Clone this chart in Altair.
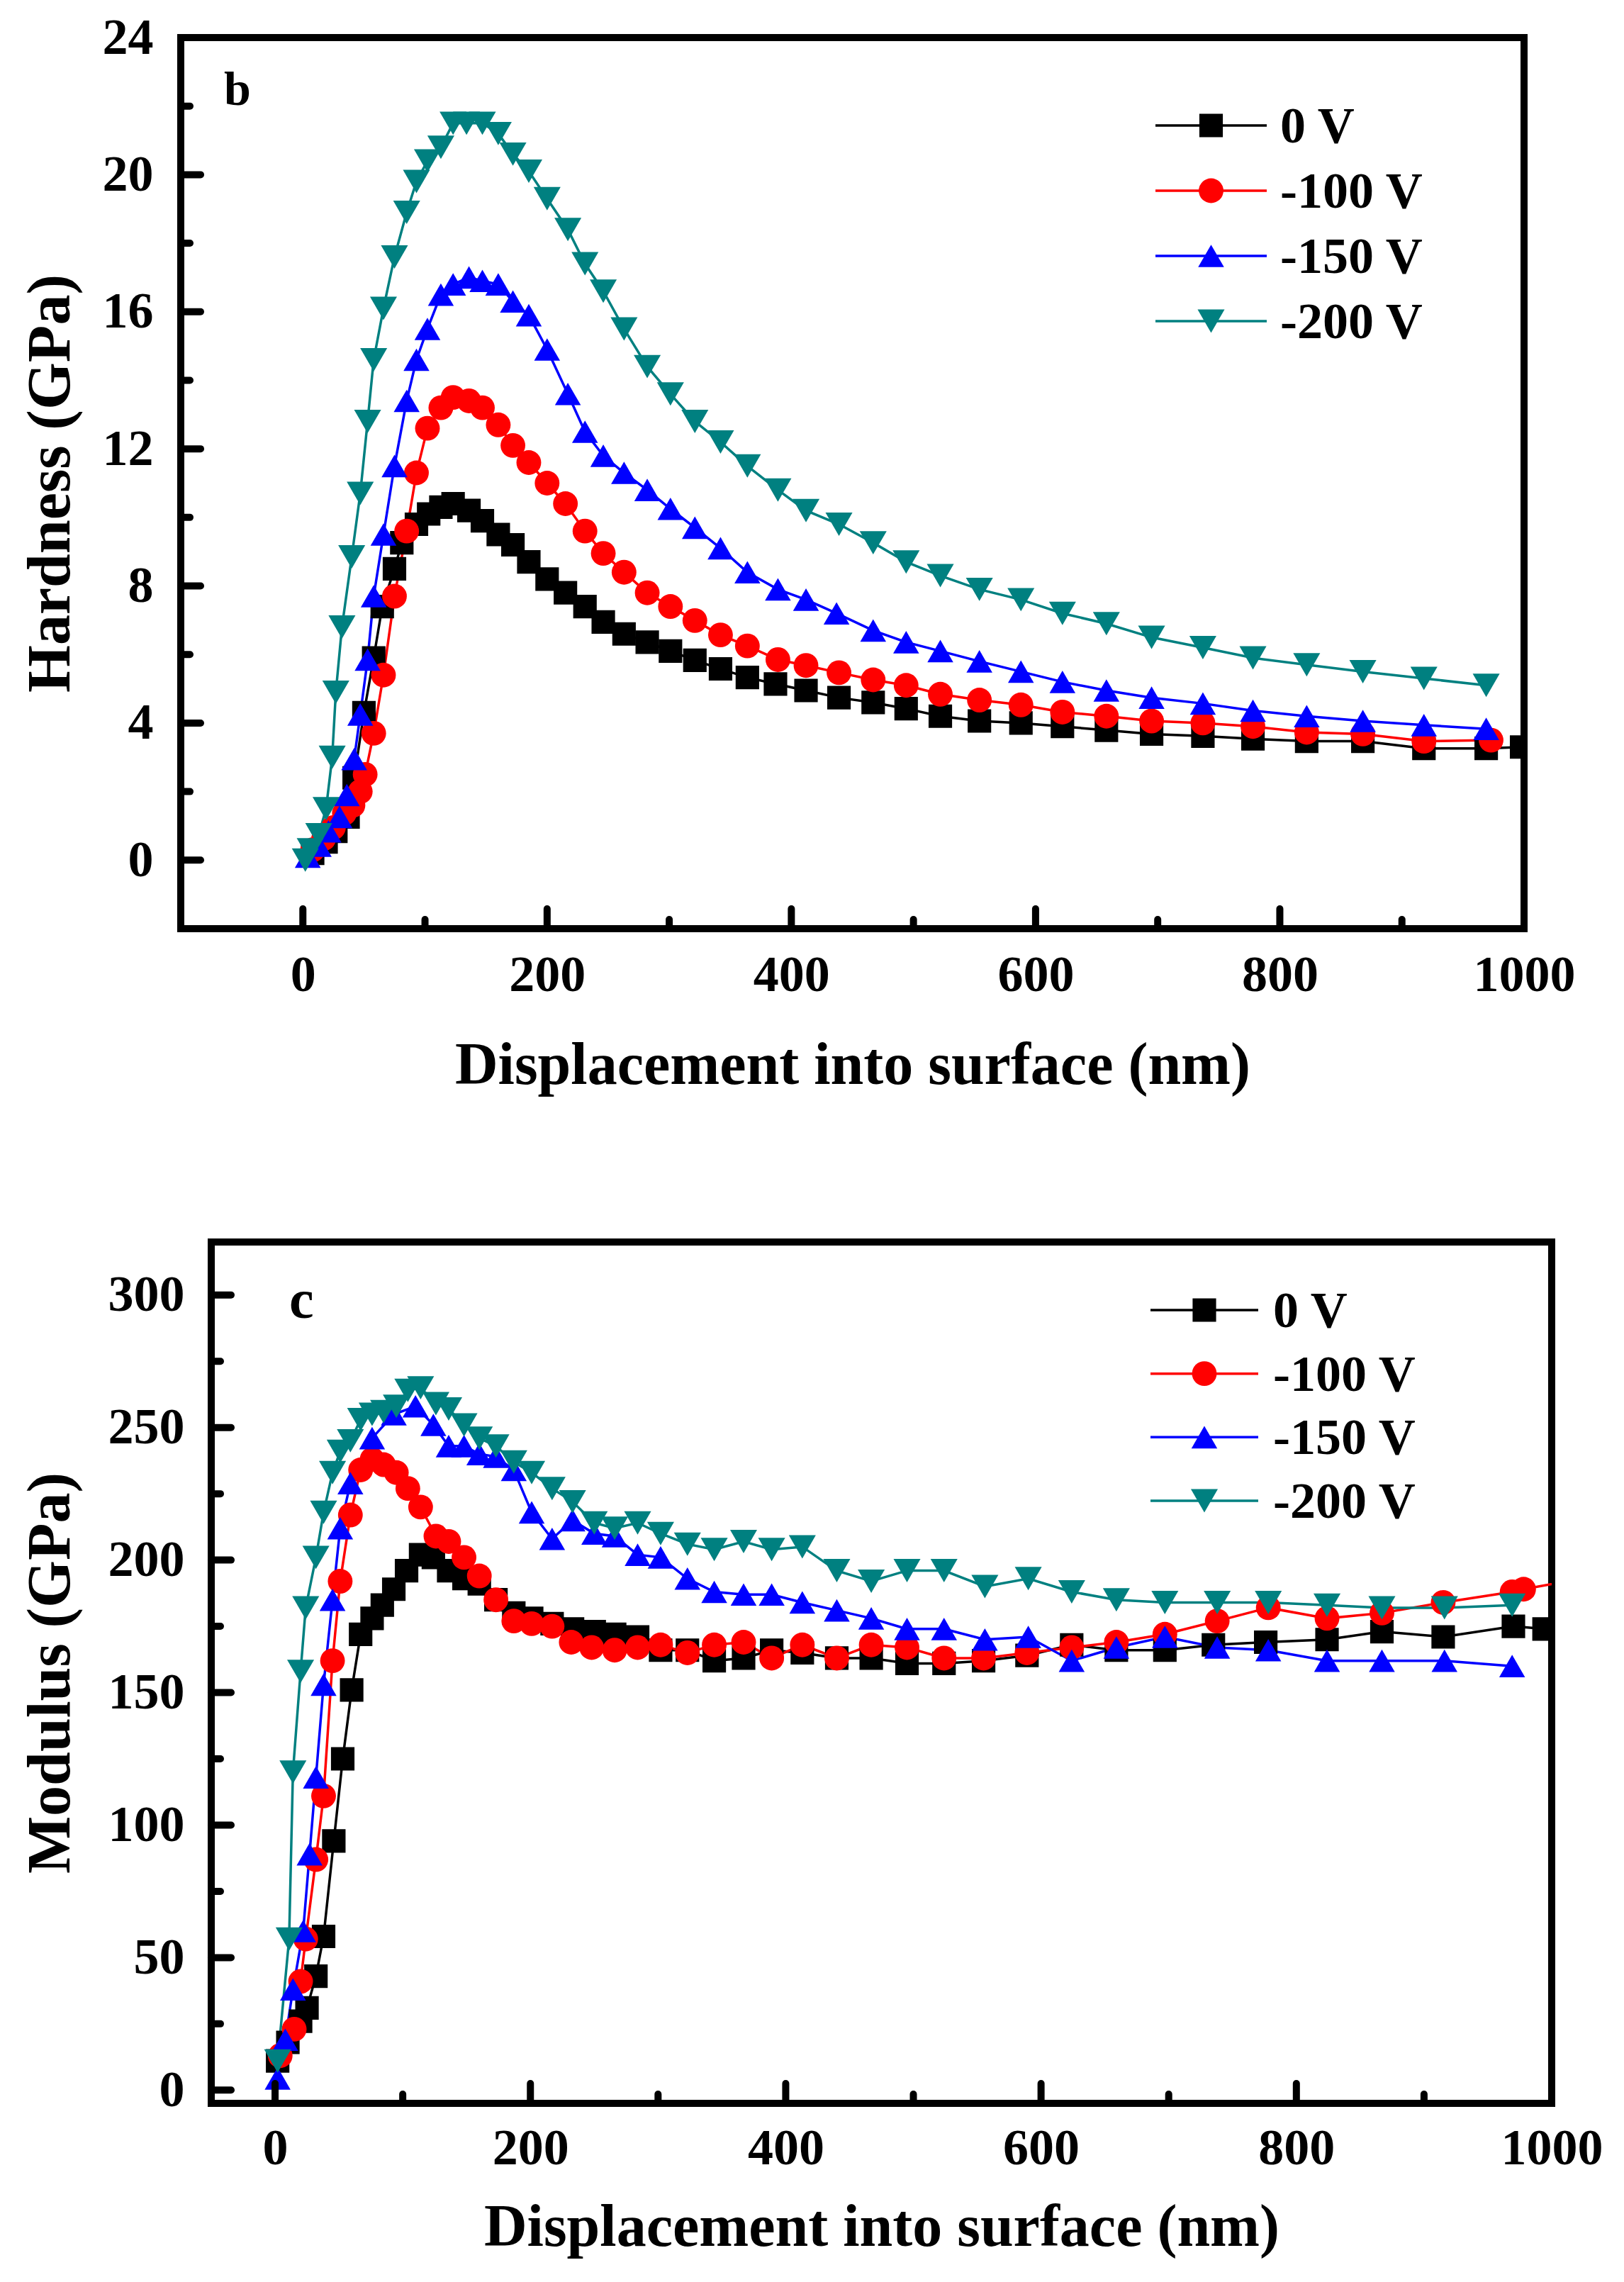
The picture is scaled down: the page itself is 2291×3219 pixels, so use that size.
import altair as alt
import pandas as pd

FONT = "Liberation Serif"

series = ["0 V", "-100 V", "-150 V", "-200 V"]
colors = ["#000000", "#ff0000", "#0000ff", "#008080"]
shapes = ["square", "circle", "triangle-up", "triangle-down"]
sizes = [1100, 1450, 1900, 1900]

# ---- panel b: hardness (GPa) vs displacement (nm)
h0_x = [8, 19, 27, 37, 42, 50, 58, 65, 75, 81, 93, 103, 113, 123, 136, 147, 160, 172, 185, 200,
        215, 231, 246, 263, 282, 301, 321, 342, 364, 387, 412, 439, 467, 494, 522, 554, 588, 622,
        658, 695, 737, 778, 822, 868, 918, 969, 998]
h0_y = [0.2, 0.53, 0.84, 1.26, 2.4, 4.3, 5.9, 7.4, 8.5, 9.26, 9.8, 10.1, 10.3, 10.4, 10.2, 9.9, 9.5,
        9.2, 8.7, 8.2, 7.8, 7.4, 6.95, 6.6, 6.36, 6.1, 5.83, 5.58, 5.33, 5.14, 4.95, 4.74, 4.6, 4.42,
        4.2, 4.06, 4.0, 3.9, 3.79, 3.68, 3.62, 3.54, 3.47, 3.47, 3.26, 3.26, 3.3]
h1_x = [8, 17, 25, 34, 41, 47, 51, 58, 66, 75, 85, 93, 102, 113, 123, 136, 147, 160, 172, 185, 200,
        215, 231, 246, 263, 282, 301, 321, 342, 364, 389, 412, 439, 467, 494, 522, 554, 588, 622,
        658, 695, 737, 778, 822, 868, 918, 973]
h1_y = [0.3, 0.63, 0.95, 1.37, 1.6, 2.0, 2.5, 3.7, 5.4, 7.7, 9.6, 11.3, 12.6, 13.2, 13.5, 13.4, 13.2,
        12.7, 12.1, 11.6, 11.0, 10.4, 9.6, 8.95, 8.4, 7.8, 7.4, 6.99, 6.57, 6.25, 5.85, 5.68, 5.47,
        5.26, 5.1, 4.84, 4.67, 4.53, 4.32, 4.2, 4.06, 4.0, 3.9, 3.73, 3.68, 3.47, 3.5]
h2_x = [4, 13, 21, 30, 36, 42, 47, 53, 58, 66, 75, 85, 93, 102, 113, 123, 136, 147, 160, 172, 185,
        200, 217, 231, 246, 263, 282, 301, 321, 342, 364, 389, 412, 437, 467, 494, 522, 554, 588,
        622, 658, 695, 737, 778, 822, 868, 918, 969]
h2_y = [0.1, 0.42, 0.84, 1.26, 1.9, 2.95, 4.25, 5.85, 7.7, 9.5, 11.5, 13.4, 14.6, 15.5, 16.5, 16.8,
        17.0, 16.9, 16.8, 16.3, 15.9, 14.9, 13.6, 12.5, 11.8, 11.3, 10.8, 10.25, 9.7, 9.1, 8.4, 7.9,
        7.6, 7.2, 6.7, 6.36, 6.1, 5.8, 5.5, 5.2, 4.95, 4.74, 4.57, 4.36, 4.2, 4.06, 3.94, 3.83]
h3_x = [2, 6, 13, 19, 24, 27, 32, 40, 47, 53, 58, 66, 75, 85, 93, 102, 113, 123, 134, 147, 160, 172,
        185, 200, 217, 231, 246, 263, 282, 301, 321, 342, 364, 389, 412, 439, 467, 494, 522, 554,
        588, 622, 658, 695, 737, 778, 822, 868, 918, 969]
h3_y = [0.0, 0.3, 0.74, 1.5, 3.0, 4.9, 6.8, 8.85, 10.7, 12.8, 14.6, 16.1, 17.6, 18.9, 19.8, 20.4,
        20.8, 21.5, 21.5, 21.5, 21.2, 20.6, 20.1, 19.3, 18.4, 17.4, 16.6, 15.5, 14.4, 13.6, 12.8,
        12.2, 11.5, 10.8, 10.2, 9.8, 9.26, 8.7, 8.3, 7.9, 7.6, 7.2, 6.9, 6.5, 6.2, 5.9, 5.7, 5.5,
        5.3, 5.1]

# ---- panel c: modulus (GPa) vs displacement (nm)
m0_x = [2, 10, 20, 25, 32, 38, 46, 53, 60, 67, 76, 84, 93, 103, 114, 124, 136, 148, 160, 173, 187,
        201, 217, 233, 250, 266, 284, 302, 323, 344, 367, 389, 413, 440, 467, 495, 524, 555, 589,
        624, 659, 697, 735, 776, 824, 867, 915, 970, 994]
m0_y = [11, 18, 26, 31, 43, 58, 94, 125, 151, 172, 178, 183, 189, 196, 202, 201, 196, 193, 191, 185,
        180, 178, 176, 174, 173, 172, 171, 166, 166, 162, 163, 166, 165, 163, 163, 161, 161, 162,
        164, 168, 166, 166, 168, 169, 170, 173, 171, 175, 174]
m1_x = [4, 15, 20, 24, 32, 38, 45, 51, 59, 67, 76, 85, 95, 104, 114, 126, 136, 148, 160, 173, 187,
        201, 217, 232, 248, 266, 284, 302, 323, 344, 367, 389, 413, 440, 467, 495, 524, 555, 589,
        624, 659, 697, 738, 778, 824, 867, 915, 969, 978, 1012]
m1_y = [13, 23, 41, 57, 87, 111, 162, 192, 217, 234, 238, 236, 233, 227, 220, 209, 207, 201, 194,
        185, 177, 176, 175, 169, 167, 166, 167, 168, 165, 168, 169, 163, 168, 163, 168, 167, 163,
        163, 165, 167, 169, 172, 177, 182, 178, 180, 184, 188, 189, 192]
m2_x = [2, 8, 14, 22, 27, 32, 38, 45, 51, 59, 76, 93, 110, 124, 136, 148, 160, 173, 187, 201, 217,
        233, 250, 266, 284, 302, 323, 344, 367, 389, 413, 440, 467, 495, 524, 556, 590, 624, 659,
        697, 738, 778, 824, 867, 916, 969]
m2_y = [4.4, 19, 38, 60, 89, 118, 153, 185, 212, 229, 246, 255, 258, 251, 243, 243, 240, 239, 234,
        218, 208, 215, 210, 209, 202, 201, 193, 188, 187, 187, 184, 181, 178, 174, 174, 170, 171,
        162, 167, 171, 167, 166, 162, 162, 162, 160]
m3_x = [2, 11, 14, 20, 24, 32, 38, 45, 51, 59, 67, 76, 85, 95, 104, 114, 126, 136, 148, 160, 173,
        187, 201, 217, 233, 250, 266, 284, 302, 323, 344, 367, 389, 413, 440, 467, 495, 524, 556,
        590, 624, 659, 697, 738, 778, 824, 867, 916, 969]
m3_y = [11, 57, 120, 158, 182, 201, 218, 233, 241, 245, 253, 255, 256, 258, 264, 265, 259, 257, 251,
        246, 243, 237, 233, 227, 222, 214, 212, 214, 210, 206, 204, 207, 204, 205, 196, 192, 196,
        196, 190, 193, 188, 185, 184, 184, 184, 183, 182, 182, 183]

# axis ticks
x_major = [0, 200, 400, 600, 800, 1000]
x_minor = [100, 300, 500, 700, 900]
h_major = [0, 4, 8, 12, 16, 20, 24]
h_minor = [2, 6, 10, 14, 18, 22]
m_major = [0, 50, 100, 150, 200, 250, 300]
m_minor = [25, 75, 125, 175, 225, 275]

XTITLE = "Displacement into surface (nm)"


def long_form(xs, ys):
    parts = [pd.DataFrame({"depth": x, "value": y, "series": s}) for s, x, y in zip(series, xs, ys)]
    return pd.concat(parts, ignore_index=True)


color_enc = alt.Color("series:N", scale=alt.Scale(domain=series, range=colors), legend=None)
shape_enc = alt.Shape("series:N", scale=alt.Scale(domain=series, range=shapes), legend=None)
size_enc = alt.Size("series:N", scale=alt.Scale(domain=series, range=sizes), legend=None)


def panel(df, xdom, ydom, ymaj, ymin, ytitle, w, h, x_lab_pad, x_title_pad, y_lab_pad, y_title_pad,
          letter, letter_pos, leg_x, leg_rows):
    xsc = alt.Scale(domain=xdom, nice=False, zero=False)
    ysc = alt.Scale(domain=ydom, nice=False, zero=False)
    xax = alt.Axis(values=x_major, format="d", ticks=False, tickSize=0, domain=False, grid=False,
                   labelFlush=False, labelOverlap=False, labelPadding=x_lab_pad,
                   titlePadding=x_title_pad, titleFontSize=84)
    yax = alt.Axis(values=ymaj, format="d", ticks=False, tickSize=0, domain=False, grid=False,
                   labelFlush=False, labelOverlap=False, labelPadding=y_lab_pad,
                   titlePadding=y_title_pad, titleFontSize=86)
    X = alt.X("depth:Q", scale=xsc, axis=xax, title=XTITLE)
    Y = alt.Y("value:Q", scale=ysc, axis=yax, title=ytitle)

    base = alt.Chart(df)
    lines = base.mark_line(strokeWidth=3.5, clip=True).encode(x=X, y=Y, color=color_enc, detail="series:N")
    points = base.mark_point(filled=True, opacity=1, clip=True).encode(
        x=X, y=Y, color=color_enc, shape=shape_enc, size=size_enc)

    # inward ticks, drawn as rules
    tick_style = dict(strokeWidth=10, strokeCap="round", color="black")
    xt_major = alt.Chart(pd.DataFrame({"depth": x_major})).mark_rule(**tick_style).encode(
        x=X, y=alt.value(h), y2=alt.value(h - 28))
    xt_minor = alt.Chart(pd.DataFrame({"depth": x_minor})).mark_rule(**tick_style).encode(
        x=X, y=alt.value(h), y2=alt.value(h - 13))
    yt_major = alt.Chart(pd.DataFrame({"value": ymaj})).mark_rule(**tick_style).encode(
        y=Y, x=alt.value(0), x2=alt.value(28))
    yt_minor = alt.Chart(pd.DataFrame({"value": ymin})).mark_rule(**tick_style).encode(
        y=Y, x=alt.value(0), x2=alt.value(13))

    tag = alt.Chart(pd.DataFrame({"t": [letter]})).mark_text(
        align="left", baseline="alphabetic", fontSize=letter_pos[2], fontWeight="bold",
        font=FONT, color="black").encode(
        text="t:N", x=alt.value(letter_pos[0]), y=alt.value(letter_pos[1]))

    plot = alt.layer(lines, points, xt_minor, xt_major, yt_minor, yt_major, tag)

    # hand-built legend: line + marker + label per series
    ldf = pd.DataFrame({"series": series})
    LY = alt.Y("series:N", scale=alt.Scale(type="point", domain=series, range=leg_rows, padding=0),
               axis=None)
    lb = alt.Chart(ldf)
    leg_line = lb.mark_rule(strokeWidth=3.5).encode(
        x=alt.value(leg_x[0]), x2=alt.value(leg_x[1]), y=LY, color=color_enc)
    leg_pt = lb.mark_point(filled=True, opacity=1).encode(
        x=alt.value((leg_x[0] + leg_x[1]) / 2), y=LY, color=color_enc, shape=shape_enc, size=size_enc)
    leg_txt = lb.mark_text(align="left", baseline="middle", fontSize=72, fontWeight="bold",
                           font=FONT, color="black", dy=2).encode(
        x=alt.value(leg_x[2]), y=LY, text="series:N")
    legend = alt.layer(leg_line, leg_pt, leg_txt)

    return alt.layer(plot, legend).resolve_scale(y="independent").properties(width=w, height=h)


top = panel(long_form([h0_x, h1_x, h2_x, h3_x], [h0_y, h1_y, h2_y, h3_y]),
            [-100, 1000], [-2, 24], h_major, h_minor, "Hardness (GPa)", 1895, 1257,
            30, 51, 39, 29, "b", (61, 95, 68), (1375, 1532, 1551), [124, 400])
bottom = panel(long_form([m0_x, m1_x, m2_x, m3_x], [m0_y, m1_y, m2_y, m3_y]),
               [-50, 1000], [-5, 320], m_major, m_minor, "Modulus (GPa)", 1891, 1215,
               28, 35, 38, 37, "c", (110, 107, 78), (1325, 1477, 1498), [96, 365])

# empty spacer: shifts the lower panel to the right of the upper one
spacer = (
    alt.Chart(pd.DataFrame({"a": [0]}))
    .mark_point(opacity=0)
    .encode(x=alt.value(0), y=alt.value(0))
    .properties(width=1, height=1, view=alt.ViewBackground(stroke="transparent"))
)

chart = (
    alt.vconcat(top, alt.hconcat(spacer, bottom, spacing=-240), spacing=194)
    .properties(padding={"left": 15, "top": 4, "right": 5, "bottom": 5})
    .configure(font=FONT)
    .configure_view(stroke="black", strokeWidth=10)
    .configure_axis(labelFont=FONT, labelFontSize=72, labelFontWeight="bold", labelColor="black",
                    titleFont=FONT, titleFontWeight="bold", titleColor="black")
)

chart.save("out.html", embed_options={"renderer": "svg", "actions": False})
